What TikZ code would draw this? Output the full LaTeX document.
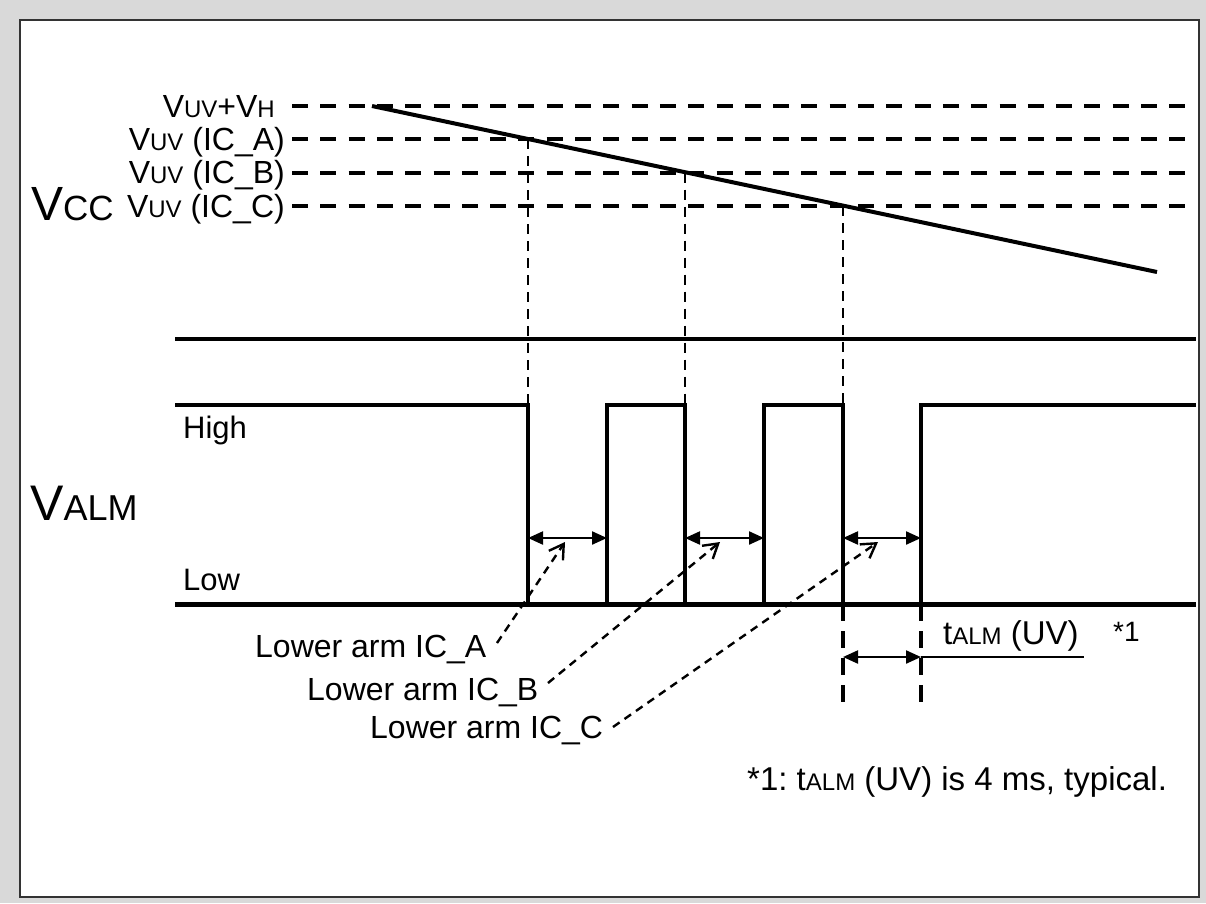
\documentclass[tikz,border=0pt]{standalone}
\usepackage{fontspec}
\setmainfont{Liberation Sans}
\usetikzlibrary{arrows.meta}
\newcommand{\smc}[1]{{\fontsize{24}{24}\selectfont #1}}
\frenchspacing
\begin{document}
\begin{tikzpicture}[x=1pt,y=-1pt,
  lbl/.style={inner sep=0pt, font=\fontsize{32}{32}\selectfont},
  sig/.style={line width=4.2pt, line join=miter},
  lvl/.style={line width=4pt, dash pattern=on 16pt off 12.3pt},
  vdrop/.style={line width=2.9pt, dash pattern=on 10pt off 7pt},
  vlow/.style={line width=4pt, dash pattern=on 17pt off 10pt},
  dim/.style={line width=2.2pt, {Triangle[length=15pt,width=13pt]}-{Triangle[length=15pt,width=13pt]}},
  leader/.style={line width=2.4pt, dash pattern=on 8pt off 6pt, -{Straight Barb[length=14pt,width=17pt,line width=2.4pt]}}]
\useasboundingbox (0,0) rectangle (1206,903);
\fill[black!15] (0,0) rectangle (1206,903);
\filldraw[fill=white, draw=black!80, line width=1.5pt] (20,20) rectangle (1199,897);

% ---- coordinates
\coordinate (h0) at (292,106);  \coordinate (h0e) at (1191,106);
\coordinate (ha) at (292,139);  \coordinate (hae) at (1191,139);
\coordinate (hb) at (292,172.5);\coordinate (hbe) at (1191,172.5);
\coordinate (hc) at (292,206);  \coordinate (hce) at (1191,206);
\coordinate (s0) at (372,106);  \coordinate (s1) at (1157,272);
\coordinate (xa) at (528,139);  \coordinate (xb) at (685,172.5); \coordinate (xc) at (843,206);
\coordinate (m0) at (175,339);  \coordinate (m1) at (1196,339);
\coordinate (l0) at (175,604);  \coordinate (l1) at (1196,604);
\coordinate (p0) at (175,405);
\coordinate (pa1) at (528,405); \coordinate (pa2) at (607,405);
\coordinate (pb1) at (685,405); \coordinate (pb2) at (764,405);
\coordinate (pc1) at (843,405); \coordinate (pc2) at (921,405);
\coordinate (p1) at (1196,405);
\coordinate (qa1) at (528,604); \coordinate (qa2) at (607,604);
\coordinate (qb1) at (685,604); \coordinate (qb2) at (764,604);
\coordinate (qc1) at (843,604); \coordinate (qc2) at (921,604);
\coordinate (ra1) at (528,538); \coordinate (ra2) at (607,538);
\coordinate (rb1) at (685,538); \coordinate (rb2) at (764,538);
\coordinate (rc1) at (843,538); \coordinate (rc2) at (921,538);
\coordinate (da) at (843,705);  \coordinate (db) at (921,705);
\coordinate (ta1) at (843,657); \coordinate (ta2) at (921,657); \coordinate (ta3) at (1084,657);
\coordinate (tipa) at (565,542); \coordinate (tipb) at (720,542); \coordinate (tipc) at (878,542);
\coordinate (sa) at (497,643);  \coordinate (sb) at (548,683); \coordinate (sc) at (613,727);

% ---- VCC levels
\draw[lvl] (h0) -- (h0e);
\draw[lvl] (ha) -- (hae);
\draw[lvl] (hb) -- (hbe);
\draw[lvl] (hc) -- (hce);
\draw[line width=4pt] (s0) -- (s1);
\draw[vdrop] (xa) -- (pa1);
\draw[vdrop] (xb) -- (pb1);
\draw[vdrop] (xc) -- (pc1);

% ---- VALM
\draw[line width=4pt] (m0) -- (m1);
\draw[line width=5pt] (l0) -- (l1);
\draw[sig] (p0) -- (pa1) -- (qa1) -- (qa2) -- (pa2) -- (pb1) -- (qb1) -- (qb2) -- (pb2)
  -- (pc1) -- (qc1) -- (qc2) -- (pc2) -- (p1);
\draw[dim] (ra1) -- (ra2);
\draw[dim] (rb1) -- (rb2);
\draw[dim] (rc1) -- (rc2);
\draw[vlow] (qc1) -- (da);
\draw[vlow] (qc2) -- (db);
\draw[dim] (ta1) -- (ta2);
\draw[line width=2.2pt] (ta2) -- (ta3);

% ---- labels
\node[lbl, anchor=base east] (lh) at (275,117) {V\smc{UV}+V\smc{H}};
\node[lbl, anchor=base east] (la) at (285,150) {V\smc{UV} (IC\_A)};
\node[lbl, anchor=base east] (lb) at (285,183) {V\smc{UV} (IC\_B)};
\node[lbl, anchor=base east] (lc) at (285,217) {V\smc{UV} (IC\_C)};
\node[inner sep=0pt, anchor=base west] (vcc) at (31,220) {\fontsize{48}{48}\selectfont V\fontsize{35}{35}\selectfont CC};
\node[inner sep=0pt, anchor=base west] (valm) at (30,520) {\fontsize{50}{50}\selectfont V\fontsize{36}{36}\selectfont ALM};
\node[lbl, anchor=base west, font=\fontsize{31}{31}\selectfont] (high) at (183,438) {High};
\node[lbl, anchor=base west, font=\fontsize{31}{31}\selectfont] (low) at (183,590) {Low};
\node[lbl, anchor=base west] (arma) at (255,657) {Lower arm IC\_A};
\node[lbl, anchor=base west] (armb) at (307,700) {Lower arm IC\_B};
\node[lbl, anchor=base west] (armc) at (370,738) {Lower arm IC\_C};
\node[lbl, anchor=base west, font=\fontsize{33}{33}\selectfont] (talm) at (943,644) {t\smc{ALM} (UV)};
\node[lbl, anchor=base west, font=\fontsize{28}{28}\selectfont] (star) at (1113,641) {*1};
\node[lbl, anchor=base west, font=\fontsize{33}{33}\selectfont] (note) at (747,790) {*1: t\smc{ALM} (UV) is 4 ms, typical.};

% ---- leaders
\draw[leader] (sa) -- (tipa);
\draw[leader] (sb) -- (tipb);
\draw[leader] (sc) -- (tipc);
\end{tikzpicture}
\end{document}
